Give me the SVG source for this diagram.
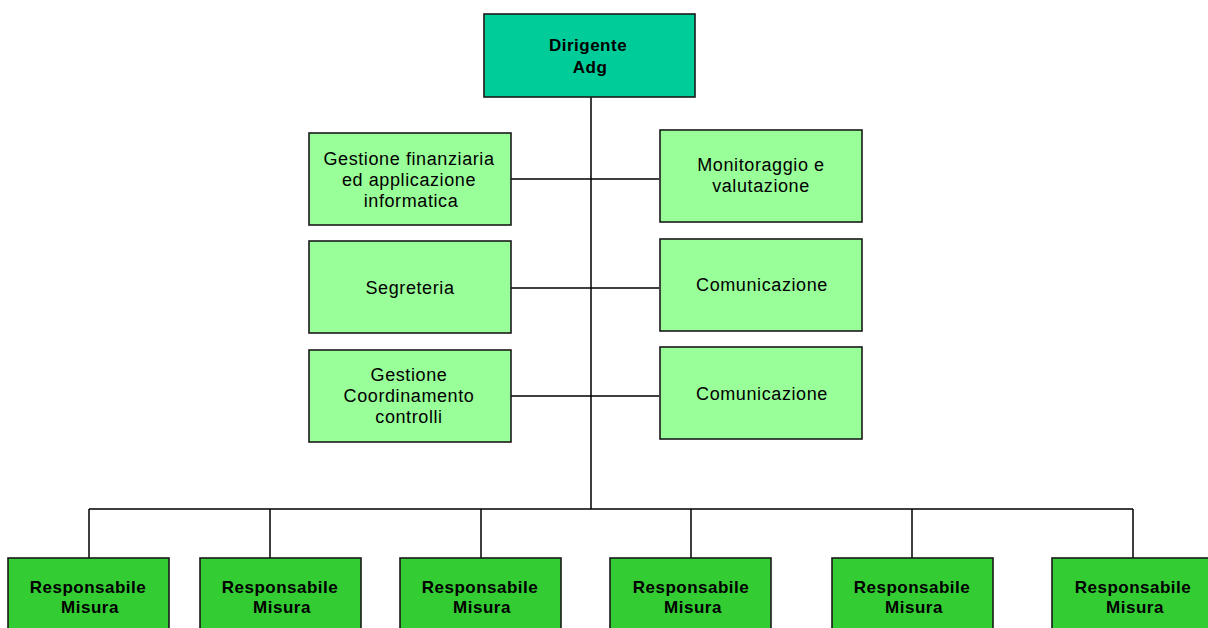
<svg xmlns="http://www.w3.org/2000/svg" width="1208" height="628" viewBox="0 0 1208 628">
<style>
.box{stroke:#1a1a1a;stroke-width:1.6}
.top{fill:#00CC99}
.mid{fill:#99FF99}
.bot{fill:#33CC33}
.t{font-family:"Liberation Sans",Arial,sans-serif;font-size:18px;letter-spacing:0.6px;fill:#000;text-anchor:middle}
.b{font-weight:bold;font-size:17px;letter-spacing:0.5px}
.ln{stroke:#000;stroke-width:1.5;fill:none}
</style>
<rect width="1208" height="628" fill="#fff"/>
<g id="connectors">
<path class="ln" d="M591 97V509M89 509H1133M89 509V558M270 509V558M481 509V558M691 509V558M912 509V558M1133 509V558M511 179H659M511 288H659M511 396H659"/>
</g>
<g id="dirigente">
<rect class="box top" x="484" y="14" width="211" height="83"/>
<text class="t b" x="588" y="51">Dirigente</text>
<text class="t b" x="590" y="73">Adg</text>
</g>
<g id="gestione-finanziaria">
<rect class="box mid" x="309" y="133" width="202" height="92"/>
<text class="t" x="409" y="165">Gestione finanziaria</text>
<text class="t" x="409" y="186">ed applicazione</text>
<text class="t" x="411" y="207">informatica</text>
</g>
<g id="monitoraggio">
<rect class="box mid" x="660" y="130" width="202" height="92"/>
<text class="t" x="761" y="171">Monitoraggio e</text>
<text class="t" x="761" y="192">valutazione</text>
</g>
<g id="segreteria">
<rect class="box mid" x="309" y="241" width="202" height="92"/>
<text class="t" x="410" y="294">Segreteria</text>
</g>
<g id="comunicazione-1">
<rect class="box mid" x="660" y="239" width="202" height="92"/>
<text class="t" x="762" y="291">Comunicazione</text>
</g>
<g id="gestione-coordinamento">
<rect class="box mid" x="309" y="350" width="202" height="92"/>
<text class="t" x="409" y="381">Gestione</text>
<text class="t" x="409" y="402">Coordinamento</text>
<text class="t" x="409" y="423">controlli</text>
</g>
<g id="comunicazione-2">
<rect class="box mid" x="660" y="347" width="202" height="92"/>
<text class="t" x="762" y="400">Comunicazione</text>
</g>
<g id="responsabile-1">
<rect class="box bot" x="8" y="558" width="161" height="92"/>
<text class="t b" x="88" y="593">Responsabile</text>
<text class="t b" x="90" y="613">Misura</text>
</g>
<g id="responsabile-2">
<rect class="box bot" x="200" y="558" width="161" height="92"/>
<text class="t b" x="280" y="593">Responsabile</text>
<text class="t b" x="282" y="613">Misura</text>
</g>
<g id="responsabile-3">
<rect class="box bot" x="400" y="558" width="161" height="92"/>
<text class="t b" x="480" y="593">Responsabile</text>
<text class="t b" x="482" y="613">Misura</text>
</g>
<g id="responsabile-4">
<rect class="box bot" x="610" y="558" width="161" height="92"/>
<text class="t b" x="691" y="593">Responsabile</text>
<text class="t b" x="693" y="613">Misura</text>
</g>
<g id="responsabile-5">
<rect class="box bot" x="832" y="558" width="161" height="92"/>
<text class="t b" x="912" y="593">Responsabile</text>
<text class="t b" x="914" y="613">Misura</text>
</g>
<g id="responsabile-6">
<rect class="box bot" x="1052" y="558" width="161" height="92"/>
<text class="t b" x="1133" y="593">Responsabile</text>
<text class="t b" x="1135" y="613">Misura</text>
</g>
</svg>
